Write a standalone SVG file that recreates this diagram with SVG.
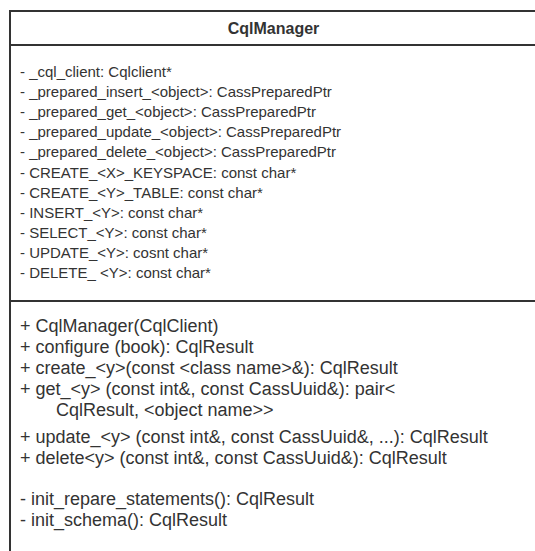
<svg xmlns="http://www.w3.org/2000/svg" width="535" height="551" viewBox="0 0 535 551">
<style>
.box{fill:#fff;stroke:#333;stroke-width:2}
.div{stroke:#333;stroke-width:2}
.title{font-family:"Liberation Sans",Arial,sans-serif;font-size:16px;font-weight:bold;fill:#333;text-anchor:middle}
.attr{font-family:"Liberation Sans",Arial,sans-serif;font-size:15px;fill:#333}
.meth{font-family:"Liberation Sans",Arial,sans-serif;font-size:18px;fill:#333}
</style>
<rect width="535" height="551" fill="#fff"/>
<g id="CqlManager">
<rect class="box" x="10" y="11" width="527" height="545"/>
<line class="div" x1="10" y1="45" x2="537" y2="45"/>
<line class="div" x1="10" y1="301" x2="537" y2="301"/>
<text class="title" x="273.5" y="34">CqlManager</text>
<text class="attr" x="20" y="77">- _cql_client: Cqlclient*</text>
<text class="attr" x="20" y="97.1">- _prepared_insert_&lt;object&gt;: CassPreparedPtr</text>
<text class="attr" x="20" y="117.2">- _prepared_get_&lt;object&gt;: CassPreparedPtr</text>
<text class="attr" x="20" y="137.3">- _prepared_update_&lt;object&gt;: CassPreparedPtr</text>
<text class="attr" x="20" y="157.4">- _prepared_delete_&lt;object&gt;: CassPreparedPtr</text>
<text class="attr" x="20" y="177.5">- CREATE_&lt;X&gt;_KEYSPACE: const char*</text>
<text class="attr" x="20" y="197.6">- CREATE_&lt;Y&gt;_TABLE: const char*</text>
<text class="attr" x="20" y="217.7">- INSERT_&lt;Y&gt;: const char*</text>
<text class="attr" x="20" y="237.8">- SELECT_&lt;Y&gt;: const char*</text>
<text class="attr" x="20" y="257.9">- UPDATE_&lt;Y&gt;: cosnt char*</text>
<text class="attr" x="20" y="278">- DELETE_ &lt;Y&gt;: const char*</text>
<text class="meth" x="20" y="332">+ CqlManager(CqlClient)</text>
<text class="meth" x="20" y="353">+ configure (book): CqlResult</text>
<text class="meth" x="20" y="374">+ create_&lt;y&gt;(const &lt;class name&gt;&amp;): CqlResult</text>
<text class="meth" x="20" y="395">+ get_&lt;y&gt; (const int&amp;, const CassUuid&amp;): pair&lt;</text>
<text class="meth" x="56" y="416">CqlResult, &lt;object name&gt;&gt;</text>
<text class="meth" x="20" y="443">+ update_&lt;y&gt; (const int&amp;, const CassUuid&amp;, ...): CqlResult</text>
<text class="meth" x="20" y="464">+ delete&lt;y&gt; (const int&amp;, const CassUuid&amp;): CqlResult</text>
<text class="meth" x="20" y="505">- init_repare_statements(): CqlResult</text>
<text class="meth" x="20" y="526">- init_schema(): CqlResult</text>
</g>
</svg>
